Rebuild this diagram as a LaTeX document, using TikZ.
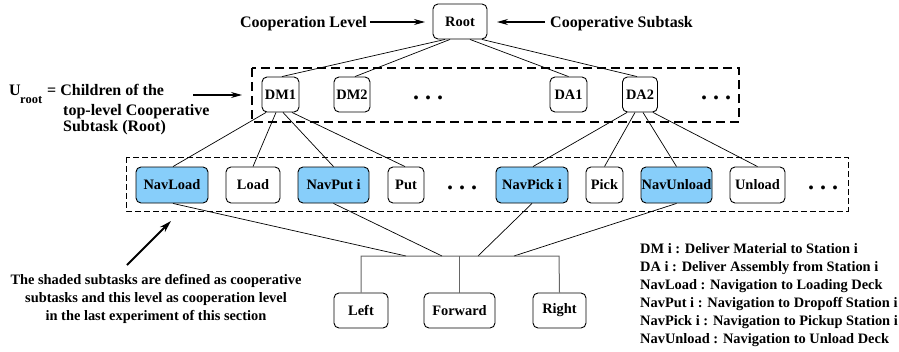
\documentclass[tikz,border=0pt]{standalone}
\usepackage{fontspec}
\setmainfont{Liberation Serif}
\usetikzlibrary{calc,arrows.meta}
\definecolor{coopblue}{RGB}{135,206,250}
\begin{document}
\begin{tikzpicture}[x=1pt,y=-1pt,
  task/.style={draw, rounded corners=5pt, line width=0.9pt, minimum height=35pt,
    inner sep=0pt, font=\fontsize{14.4}{17}\selectfont\bfseries},
  coop/.style={task, fill=coopblue},
  link/.style={line width=0.7pt},
  bus/.style={line width=1pt, draw=black!60},
  levelbox/.style={line width=1.2pt, dash pattern=on 9pt off 5pt},
  subbox/.style={line width=0.9pt, dash pattern=on 6pt off 3pt},
  lbl/.style={inner sep=0pt, font=\fontsize{16}{19}\selectfont\bfseries},
  note/.style={inner sep=0pt, font=\fontsize{14.4}{18}\selectfont\bfseries},
  more/.style={inner sep=0pt, font=\fontsize{24}{24}\selectfont\bfseries},
  pointer/.style={-{Stealth[length=11pt,width=6pt]}, line width=1.1pt}]
\useasboundingbox (0,0) rectangle (899,351);

% dashed group outlines
\draw[levelbox] (252,68) rectangle (739,122);
\draw[subbox] (126,157) rectangle (848,211);

% top level
\node[task, minimum width=54pt] (root) at (460,21.5) {Root};

% children of the root
\node[task, minimum width=37pt] (dm1) at (280.5,94.5) {DM1};
\node[task, minimum width=36pt] (dm2) at (352,94.5) {DM2};
\node[more, anchor=base] (dotsA) at (428,99) {.\hspace{6pt}.\hspace{6pt}.};
\node[task, minimum width=37pt] (da1) at (568.5,94.5) {DA1};
\node[task, minimum width=35pt] (da2) at (640,94.5) {DA2};
\node[more, anchor=base] (dotsB) at (716,99) {.\hspace{6pt}.\hspace{6pt}.};

% subtasks
\node[coop, minimum width=72pt, minimum height=36pt] (navload) at (172,185) {NavLoad};
\node[task, minimum width=54pt, minimum height=36pt] (load) at (253,185) {Load};
\node[coop, minimum width=71pt, minimum height=36pt] (navput) at (333.5,185) {NavPut i};
\node[task, minimum width=36pt, minimum height=36pt] (put) at (406,185) {Put};
\node[more, anchor=base] (dotsC) at (462,189) {.\hspace{6pt}.\hspace{6pt}.};
\node[coop, minimum width=72pt, minimum height=36pt] (navpick) at (532,185) {NavPick i};
\node[task, minimum width=37pt, minimum height=36pt] (pick) at (604.5,185) {Pick};
\node[coop, minimum width=71pt, minimum height=36pt] (navunload) at (676.5,185) {NavUnload};
\node[task, minimum width=55pt, minimum height=36pt] (unload) at (757.5,185) {Unload};
\node[more, anchor=base] (dotsD) at (823,189) {.\hspace{6pt}.\hspace{6pt}.};

% primitive actions
\node[task, minimum width=54pt] (left) at (361,310.5) {Left};
\node[task, minimum width=71pt] (forward) at (459.5,310.5) {Forward};
\node[task, minimum width=53pt] (right) at (559.5,310.5) {Right};

% root to its children
\draw[link] ($(root.south)+(-15,0)$) -- ($(dm1.north)+(1.5,0)$);
\draw[link] ($(root.south)+(-10,0)$) -- ($(dm2.north)+(3,0)$);
\draw[link] ($(root.south)+(10,0)$) -- (da1.north);
\draw[link] ($(root.south)+(22,0)$) -- ($(da2.north)+(-3,0)$);

% DM1 to its subtasks
\draw[link] ($(dm1.south)+(-14.5,0)$) -- ($(navload.north)+(1,0)$);
\draw[link] ($(dm1.south)+(-4.5,0)$) -- (load.north);
\draw[link] ($(dm1.south)+(2.5,0)$) -- (navput.north);
\draw[link] ($(dm1.south)+(11.5,0)$) -- ($(put.north)+(-1,0)$);

% DA2 to its subtasks
\draw[link] ($(da2.south)+(-13,0)$) -- ($(navpick.north)+(1,0)$);
\draw[link] ($(da2.south)+(-5,0)$) -- (pick.north);
\draw[link] ($(da2.south)+(3,0)$) -- (navunload.north);
\draw[link] ($(da2.south)+(13,0)$) -- (unload.north);

% shared bus to the primitive actions
\coordinate (busL) at (361,256);
\coordinate (busR) at (559,256);
\coordinate (busM) at (459.5,256);
\coordinate (j1) at (406,256);
\coordinate (j2) at (442,256);
\coordinate (j3) at (478,256);
\coordinate (j4) at (514,256);
\draw[link] ($(navload.south)+(1,0)$) -- (j1);
\draw[link] (navput.south) -- (j2);
\draw[link] (navpick.south) -- (j3);
\draw[link] (navunload.south) -- (j4);
\draw[bus] (left.north) -- (busL) -- (busR) -- (right.north);
\draw[bus] (busM) -- (forward.north);

% annotations at the top
\node[lbl, anchor=base east] (coopLevel) at (367,27.5) {Cooperation Level};
\coordinate (coopLevelTip) at (425,22);
\draw[pointer] (370,22) -- (coopLevelTip);
\node[lbl, anchor=base west] (coopSub) at (550,27.5) {Cooperative Subtask};
\coordinate (coopSubTip) at (497,22);
\draw[pointer] (545,22) -- (coopSubTip);

% U_root explanation
\node[lbl, anchor=base west] (uU) at (9,95) {U};
\node[inner sep=0pt, anchor=base west, font=\fontsize{12.5}{14}\selectfont\bfseries] (uRoot) at (20,103) {root};
\node[lbl, anchor=base west] (uLine1) at (47,95) {= Children of the};
\node[lbl, anchor=base west] (uLine2) at (63,115) {top-level Cooperative};
\node[lbl, anchor=base west] (uLine3) at (63,131) {Subtask (Root)};
\coordinate (uTip) at (242,95);
\draw[pointer] (193,95) -- (uTip);

% note on shaded subtasks
\node[note, anchor=base] (shade1) at (156,284) {The shaded subtasks are defined as cooperative};
\node[note, anchor=base] (shade2) at (156,302) {subtasks and this level as cooperation level};
\node[note, anchor=base] (shade3) at (156,320) {in the last experiment of this section};
\coordinate (shadeTail) at (127,265);
\coordinate (shadeTip) at (171,221);
\draw[-{Stealth[length=12pt,width=7pt]}, line width=2pt] (shadeTail) -- (shadeTip);

% legend
\node[note, anchor=base west] (leg1) at (640,253) {DM i : Deliver Material to Station i};
\node[note, anchor=base west] (leg2) at (640,271) {DA i : Deliver Assembly from Station i};
\node[note, anchor=base west] (leg3) at (640,289) {NavLoad : Navigation to Loading Deck};
\node[note, anchor=base west] (leg4) at (640,307) {NavPut i : Navigation to Dropoff Station i};
\node[note, anchor=base west] (leg5) at (640,325) {NavPick i : Navigation to Pickup Station i};
\node[note, anchor=base west] (leg6) at (640,343) {NavUnload : Navigation to Unload Deck};
\end{tikzpicture}
\end{document}
